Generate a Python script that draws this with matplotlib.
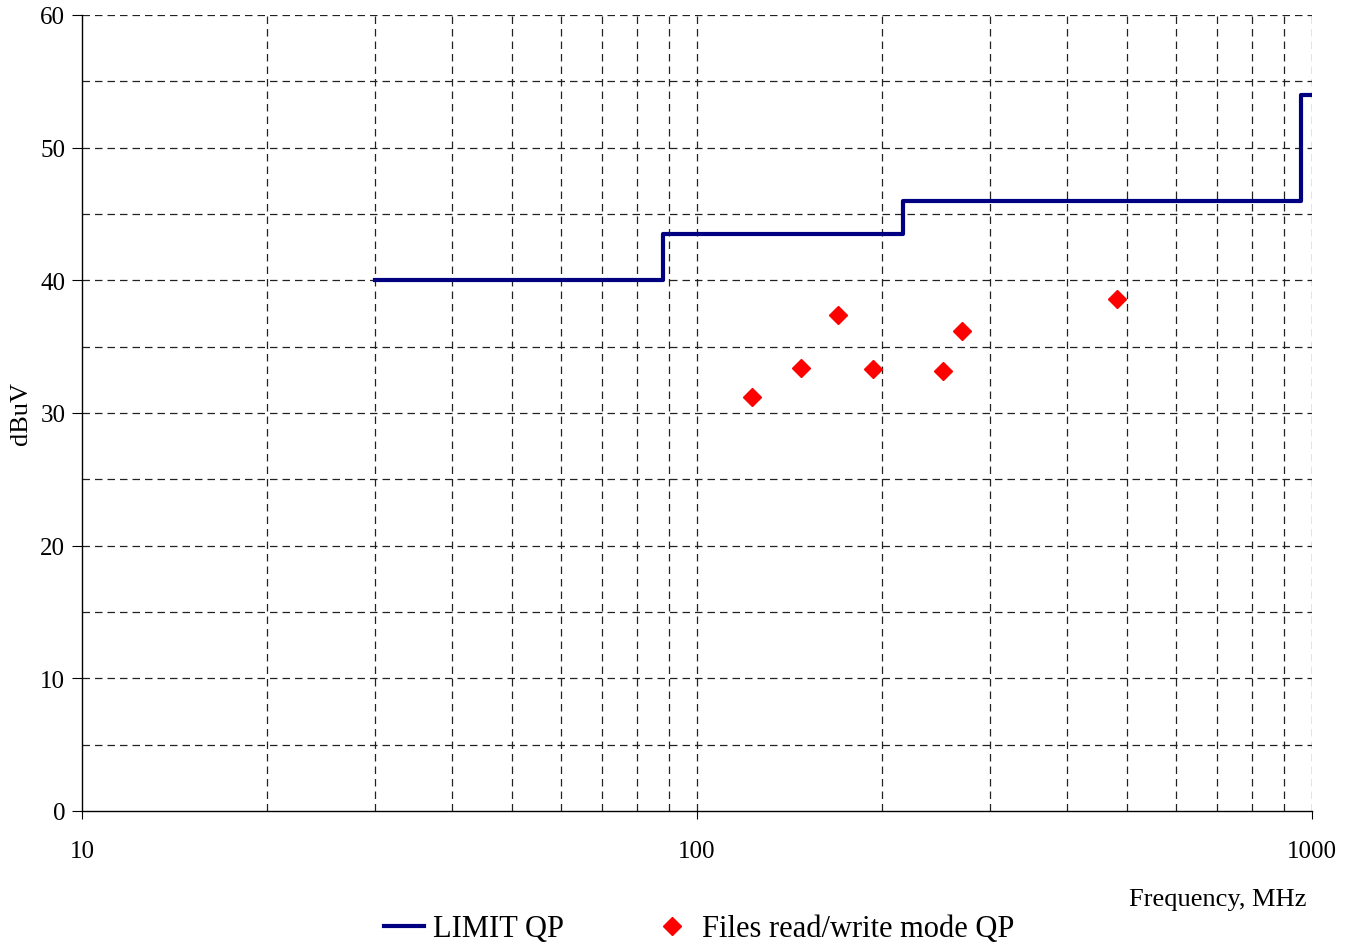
import matplotlib
matplotlib.use("Agg")
import matplotlib.pyplot as plt
from matplotlib.ticker import FixedLocator, NullFormatter

# Data
limit_freq = [30, 88, 88, 216, 216, 960, 960, 1000]
limit_level = [40, 40, 43.5, 43.5, 46, 46, 54, 54]
meas_freq = [122.8, 147.6, 169.8, 193.3, 251.0, 269.5, 481.0]
meas_level = [31.2, 33.4, 37.4, 33.3, 33.2, 36.2, 38.6]
x_major = [10, 100, 1000]
x_major_labels = ["10", "100", "1000"]
x_minor = [20, 30, 40, 50, 60, 70, 80, 90, 200, 300, 400, 500, 600, 700, 800, 900]
y_ticks = [0, 10, 20, 30, 40, 50, 60]
y_grid = [5, 15, 25, 35, 45, 55]

plt.rcParams['font.family'] = ['Liberation Serif', 'DejaVu Serif']

fig = plt.figure(figsize=(13.55, 9.53), dpi=100)
ax = fig.add_axes([82/1355, 1 - 812/953, (1312-82)/1355, (812-16)/953])

ax.set_xscale('log')
ax.set_xlim(10, 1000)
ax.set_ylim(0, 60)

dash = (0, (6, 4))
for xv in x_minor + x_major[1:]:
    ax.axvline(xv, color='#222222', lw=0.9, ls=dash, zorder=1)
for yv in y_ticks[1:] + y_grid:
    ax.axhline(yv, color='#222222', lw=0.9, ls=dash, zorder=1)

ax.plot(limit_freq, limit_level, color='#000080', lw=3, zorder=3, label='LIMIT QP')
ax.plot(meas_freq, meas_level, ls='none', marker='D', ms=9, color='red',
        markeredgecolor='red', zorder=4, label='Files read/write mode QP')

for s in ['top', 'right']:
    ax.spines[s].set_visible(False)
for s in ['left', 'bottom']:
    ax.spines[s].set_color('black')
    ax.spines[s].set_linewidth(1)

ax.xaxis.set_major_locator(FixedLocator(x_major))
ax.set_xticklabels(x_major_labels)
ax.xaxis.set_minor_locator(FixedLocator([]))
ax.xaxis.set_minor_formatter(NullFormatter())
ax.set_yticks(y_ticks)
ax.tick_params(axis='x', which='major', length=6, direction='out', pad=15, labelsize=18)
ax.tick_params(axis='y', which='major', length=7, direction='out', pad=5, labelsize=18)

ax.set_ylabel('dBuV', fontsize=19, labelpad=6)
fig.text(1218/1355, 1 - 900/953, 'Frequency, MHz', fontsize=19, ha='center', va='center')

leg = fig.legend(loc='center', bbox_to_anchor=(699/1355, 1 - 930/953), ncol=2,
                 frameon=False, fontsize=22, handlelength=1.3, columnspacing=2.9,
                 handletextpad=0.3)

fig.savefig('out.png', dpi=100)
